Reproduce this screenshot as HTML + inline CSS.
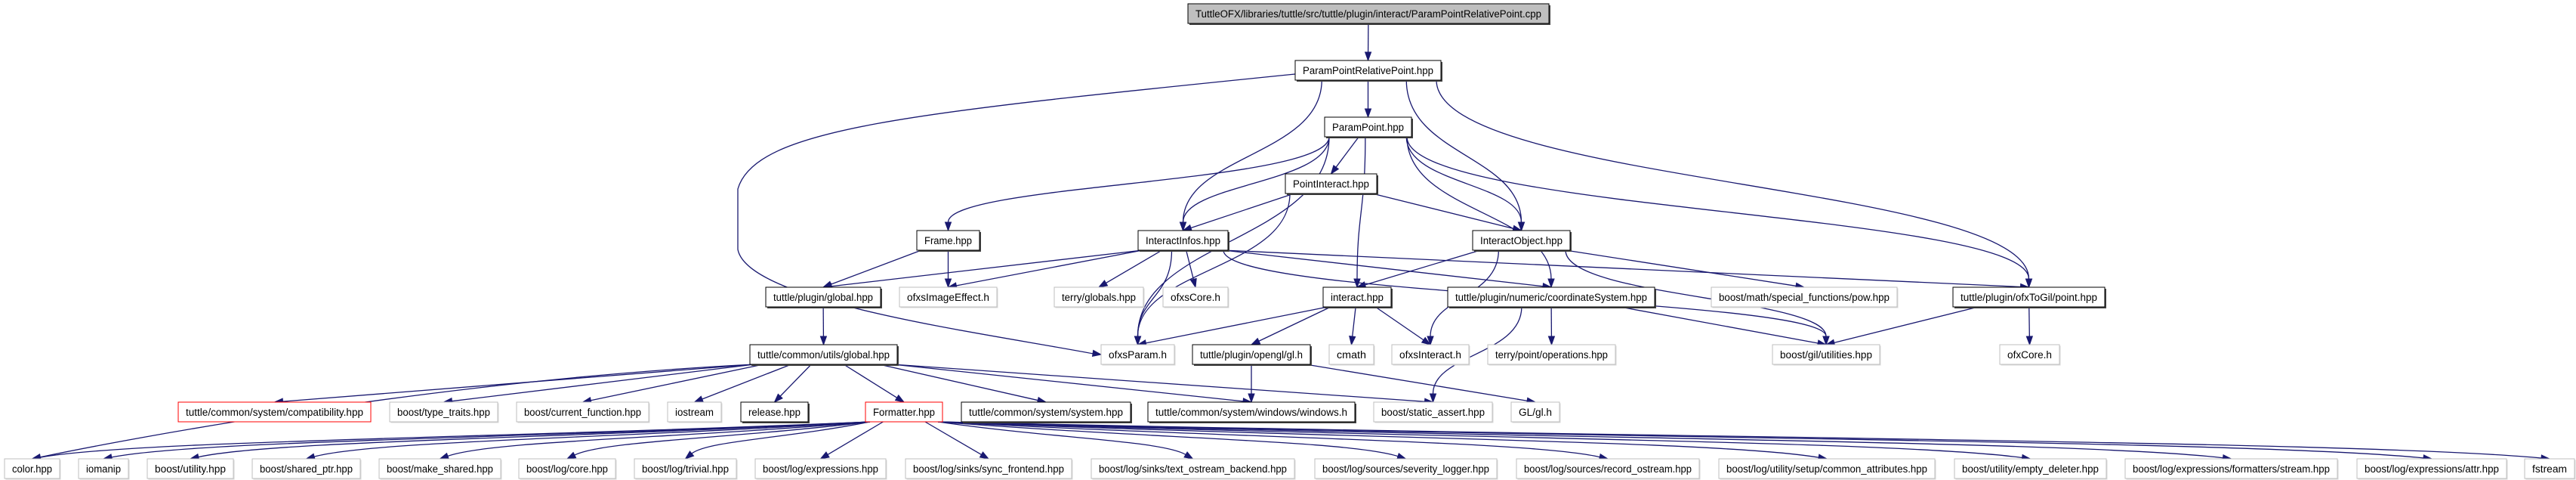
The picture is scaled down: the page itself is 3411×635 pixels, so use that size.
<!DOCTYPE html>
<html><head><meta charset="utf-8"><title>ParamPointRelativePoint.cpp include graph</title>
<style>
html,body{margin:0;padding:0;background:#fff;}
svg{display:block;}
text{font-family:"Liberation Sans",Arial,sans-serif;font-size:13.5px;fill:#000;}
</style></head>
<body>
<svg id="graph" width="3411" height="635" viewBox="0 0 3411 635" xmlns="http://www.w3.org/2000/svg">
<g id="edges"></g>
<g id="nodes"></g>
</svg>
<script>
const rowTops = [5, 80, 155, 230, 305, 380, 456, 532, 607];
const nodeH = 26;
// id, label, x1, x2, row, style (t=root, b=documented, g=external, r=incomplete)
const nodes = [
 ["top","TuttleOFX/libraries/tuttle/src/tuttle/plugin/interact/ParamPointRelativePoint.cpp",1573,2051,0,"t"],
 ["pprp","ParamPointRelativePoint.hpp",1715,1908,1,"b"],
 ["pp","ParamPoint.hpp",1754,1869,2,"b"],
 ["pi","PointInteract.hpp",1702,1823,3,"b"],
 ["frame","Frame.hpp",1214,1297,4,"b"],
 ["ii","InteractInfos.hpp",1507,1626,4,"b"],
 ["io","InteractObject.hpp",1950,2079,4,"b"],
 ["pglobal","tuttle/plugin/global.hpp",1014,1166,5,"b"],
 ["imgfx","ofxsImageEffect.h",1191,1320,5,"g"],
 ["tglob","terry/globals.hpp",1396,1514,5,"g"],
 ["ofxscore","ofxsCore.h",1540,1626,5,"g"],
 ["interact","interact.hpp",1752,1842,5,"b"],
 ["coord","tuttle/plugin/numeric/coordinateSystem.hpp",1917,2191,5,"b"],
 ["pow","boost/math/special_functions/pow.hpp",2266,2512,5,"g"],
 ["point","tuttle/plugin/ofxToGil/point.hpp",2586,2787,5,"b"],
 ["uglobal","tuttle/common/utils/global.hpp",993,1188,6,"b"],
 ["param","ofxsParam.h",1458,1555,6,"g"],
 ["ogl","tuttle/plugin/opengl/gl.h",1579,1735,6,"b"],
 ["cmath","cmath",1760,1819,6,"g"],
 ["ofxsint","ofxsInteract.h",1843,1945,6,"g"],
 ["ops","terry/point/operations.hpp",1970,2139,6,"g"],
 ["gil","boost/gil/utilities.hpp",2347,2489,6,"g"],
 ["ofxcore","ofxCore.h",2648,2727,6,"g"],
 ["compat","tuttle/common/system/compatibility.hpp",236,491,7,"r"],
 ["typetr","boost/type_traits.hpp",516,659,7,"g"],
 ["curfn","boost/current_function.hpp",684,859,7,"g"],
 ["iostream","iostream",884,955,7,"g"],
 ["release","release.hpp",981,1070,7,"b"],
 ["fmt","Formatter.hpp",1146,1248,7,"r"],
 ["system","tuttle/common/system/system.hpp",1273,1497,7,"b"],
 ["windows","tuttle/common/system/windows/windows.h",1520,1794,7,"b"],
 ["sassert","boost/static_assert.hpp",1819,1976,7,"g"],
 ["glgl","GL/gl.h",2001,2065,7,"g"],
 ["color","color.hpp",6,79,8,"g"],
 ["iomanip","iomanip",104,170,8,"g"],
 ["butil","boost/utility.hpp",195,309,8,"g"],
 ["sptr","boost/shared_ptr.hpp",334,477,8,"g"],
 ["mkshared","boost/make_shared.hpp",502,663,8,"g"],
 ["logcore","boost/log/core.hpp",687,815,8,"g"],
 ["trivial","boost/log/trivial.hpp",840,975,8,"g"],
 ["expr","boost/log/expressions.hpp",1000,1173,8,"g"],
 ["syncfe","boost/log/sinks/sync_frontend.hpp",1199,1419,8,"g"],
 ["textos","boost/log/sinks/text_ostream_backend.hpp",1445,1714,8,"g"],
 ["sevlog","boost/log/sources/severity_logger.hpp",1741,1982,8,"g"],
 ["recos","boost/log/sources/record_ostream.hpp",2008,2250,8,"g"],
 ["comattr","boost/log/utility/setup/common_attributes.hpp",2276,2562,8,"g"],
 ["empdel","boost/utility/empty_deleter.hpp",2588,2789,8,"g"],
 ["fstreamfmt","boost/log/expressions/formatters/stream.hpp",2814,3095,8,"g"],
 ["attr","boost/log/expressions/attr.hpp",3121,3319,8,"g"],
 ["fstream","fstream",3343,3409,8,"g"]
];
const edgeFrom = ["top","pprp","pprp","pprp","pprp","pprp","pp","pp","pp","pp","pp","pp","pp","pp","pi","pi","pi","frame","frame","ii","ii","ii","ii","ii","ii","ii","ii","io","io","io","io","interact","interact","interact","interact","coord","coord","coord","ogl","ogl","point","point","pglobal","uglobal","uglobal","uglobal","uglobal","uglobal","uglobal","uglobal","uglobal","uglobal","uglobal"];
const edgeTo   = ["pprp","pp","ii","io","point","param","frame","ii","pi","param","interact","coord","io","point","ii","io","param","pglobal","imgfx","pglobal","imgfx","tglob","ofxscore","param","coord","gil","point","interact","ofxsint","pow","gil","param","ogl","cmath","ofxsint","ops","sassert","gil","windows","glgl","gil","ofxcore","uglobal","compat","typetr","curfn","iostream","release","fmt","system","windows","sassert","color"];
const fmtTargets = ["color","iomanip","butil","sptr","mkshared","logcore","trivial","expr","syncfe","textos","sevlog","recos","comattr","empdel","fstreamfmt","attr","fstream"];

const NS = "http://www.w3.org/2000/svg";
const byId = {};
nodes.forEach(n => { byId[n[0]] = {id:n[0], label:n[1], x1:n[2], x2:n[3], y1:rowTops[n[4]], y2:rowTops[n[4]]+nodeH, row:n[4], style:n[5]}; });
const eg = document.getElementById("edges");
const ng = document.getElementById("nodes");
const EC = "#191970";

function arrowHead(g, x, y, ang, name) {
  const L = 11, W = 4;
  const bx = x - L*Math.cos(ang), by = y - L*Math.sin(ang);
  const px = -Math.sin(ang)*W, py = Math.cos(ang)*W;
  const p = document.createElementNS(NS, "polygon");
  p.setAttribute("points", `${x},${y} ${bx+px},${by+py} ${bx-px},${by-py}`);
  p.setAttribute("fill", EC); p.setAttribute("stroke", EC);
  
  
  g.appendChild(p);
}
function drawEdge(a, b, idx, bottomCurve) {
  const s = byId[a], t = byId[b];
  const scx = (s.x1+s.x2)/2, tcx = (t.x1+t.x2)/2;
  let sx = scx + (tcx - scx)*0.25;
  sx = Math.max(s.x1+6, Math.min(s.x2-6, sx));
  const sy = s.y2;
  const tx = tcx, ty = t.y1;
  const gap = t.row - s.row;
  let d, ang;
  const path = document.createElementNS(NS, "path");
  if (a === "pprp" && b === "param") {
    d = `M${s.x1},${s.y1+18} C1200,150 1000,170 977,250 L977,330 C990,400 1300,440 ${t.x1-10},${t.y1+12}`;
    ang = Math.atan2(9, 60);
    arrowHead(eg, t.x1, t.y1+13, ang, 'edge-'+a+'-'+b);
    path.setAttribute("d", d);
  } else if (gap === 1 && !bottomCurve) {
    ang = Math.atan2(ty - sy, tx - sx);
    const ex = tx - 11*Math.cos(ang), ey = ty - 11*Math.sin(ang);
    d = `M${sx},${sy} L${ex},${ey}`;
    path.setAttribute("d", d);
    arrowHead(eg, tx, ty, ang, 'edge-'+a+'-'+b);
  } else {
    const dy = ty - sy;
    const c1y = bottomCurve ? sy + 22 : sy + dy*0.5;
    const c2y = bottomCurve ? ty - 24 : ty - dy*0.5;
    const c1x = bottomCurve ? sx + (tx - sx)*0.45 : sx;
    if (bottomCurve) ang = Math.atan2(24, (tx - sx)*0.12 || 0.001);
    else ang = Math.PI/2;
    const ex = tx - 11*Math.cos(ang), ey = ty - 11*Math.sin(ang);
    const c2x = bottomCurve ? tx - (tx-sx)*0.12 : tx;
    d = `M${sx},${sy} C${c1x},${c1y} ${c2x},${c2y} ${ex},${ey}`;
    path.setAttribute("d", d);
    arrowHead(eg, tx, ty, ang, 'edge-'+a+'-'+b);
  }
  path.setAttribute("fill", "none");
  path.setAttribute("stroke", EC);
  path.setAttribute("stroke-width", "1.3");
  
  
  eg.appendChild(path);
}
for (let i = 0; i < edgeFrom.length; i++) {
  const bc = (edgeFrom[i] === "uglobal" && edgeTo[i] === "color");
  drawEdge(edgeFrom[i], edgeTo[i], i, bc);
}
fmtTargets.forEach((t, i) => {
  const tgt = byId[t];
  const tc = (tgt.x1+tgt.x2)/2;
  drawEdge("fmt", t, i, Math.abs(tc - 1197) > 260);
});

nodes.forEach(n => {
  const o = byId[n[0]];
  const g = document.createElementNS(NS, "g");
  
  
  const w = o.x2 - o.x1;
  if (o.style === "b" || o.style === "t") {
    const sh = document.createElementNS(NS, "rect");
    sh.setAttribute("x", o.x1+2); sh.setAttribute("y", o.y1+2);
    sh.setAttribute("width", w); sh.setAttribute("height", nodeH);
    sh.setAttribute("fill", "#444");
    
    
    g.appendChild(sh);
  } else if (o.style === "g") {
    const sh = document.createElementNS(NS, "rect");
    sh.setAttribute("x", o.x1+1.5); sh.setAttribute("y", o.y1+1.5);
    sh.setAttribute("width", w); sh.setAttribute("height", nodeH);
    sh.setAttribute("fill", "#d8d8d8");
    
    
    g.appendChild(sh);
  }
  const r = document.createElementNS(NS, "rect");
  r.setAttribute("x", o.x1); r.setAttribute("y", o.y1);
  r.setAttribute("width", w); r.setAttribute("height", nodeH);
  r.setAttribute("fill", o.style === "t" ? "#bfbfbf" : "#fff");
  r.setAttribute("stroke", o.style === "g" ? "#bfbfbf" : (o.style === "r" ? "#ff0000" : "#000"));
  r.setAttribute("stroke-width", "1");
  
  
  g.appendChild(r);
  const tx = document.createElementNS(NS, "text");
  tx.setAttribute("x", (o.x1+o.x2)/2);
  tx.setAttribute("y", o.y1 + 18);
  tx.setAttribute("text-anchor", "middle");
  tx.setAttribute("textLength", Math.max(10, w - 20));
  tx.setAttribute("lengthAdjust", "spacingAndGlyphs");
  tx.textContent = o.label;
  
  
  g.appendChild(tx);
  ng.appendChild(g);
});
</script>
</body></html>
